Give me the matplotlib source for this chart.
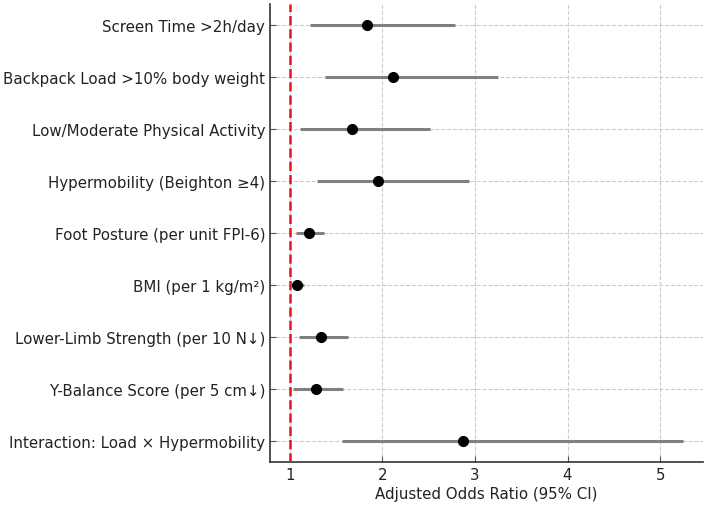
import matplotlib
matplotlib.use("Agg")
import matplotlib.pyplot as plt
import numpy as np

labels = [
    "Screen Time >2h/day",
    "Backpack Load >10% body weight",
    "Low/Moderate Physical Activity",
    "Hypermobility (Beighton \u22654)",
    "Foot Posture (per unit FPI-6)",
    "BMI (per 1 kg/m\u00b2)",
    "Lower-Limb Strength (per 10 N\u2193)",
    "Y-Balance Score (per 5 cm\u2193)",
    "Interaction: Load \u00d7 Hypermobility",
]
odds_ratio = [1.84, 2.12, 1.67, 1.95, 1.21, 1.08, 1.34, 1.28, 2.87]
ci_low = [1.22, 1.38, 1.115, 1.29, 1.07, 1.01, 1.10, 1.04, 1.56]
ci_high = [2.78, 3.25, 2.52, 2.94, 1.37, 1.155, 1.63, 1.58, 5.25]

fs = 10.8
fig = plt.figure(figsize=(7.09, 5.06), dpi=100)
ax = fig.add_axes([270/709, 1-463/506, (703-270)/709, (463-5)/506])

y = np.arange(len(labels))
ax.hlines(y, ci_low, ci_high, color="#808080", lw=2.2, zorder=2)
ax.plot(odds_ratio, y, "o", color="black", ms=7, zorder=3)
ax.axvline(1, color="#e8141c", ls="--", lw=1.8, zorder=4)

ax.set_yticks(y)
ax.set_yticklabels(labels, fontsize=fs, color="#222222")
ax.set_xticks([1, 2, 3, 4, 5])
ax.tick_params(axis="x", labelsize=fs, labelcolor="#222222")
ax.tick_params(direction="in", length=4, color="#555555")
ax.set_xlabel("Adjusted Odds Ratio (95% CI)", fontsize=fs, color="#222222", labelpad=3)
ax.margins(x=0.05, y=0.05)
ax.set_ylim(len(labels) - 1 + 0.4, -0.4)

ax.grid(True, ls="--", color="#cccccc", lw=0.8, zorder=0)
ax.set_axisbelow(True)
for s in ["top", "right"]:
    ax.spines[s].set_visible(False)
for s in ["left", "bottom"]:
    ax.spines[s].set_color("#333333")
    ax.spines[s].set_linewidth(1.2)

fig.savefig("out.png", dpi=100)
